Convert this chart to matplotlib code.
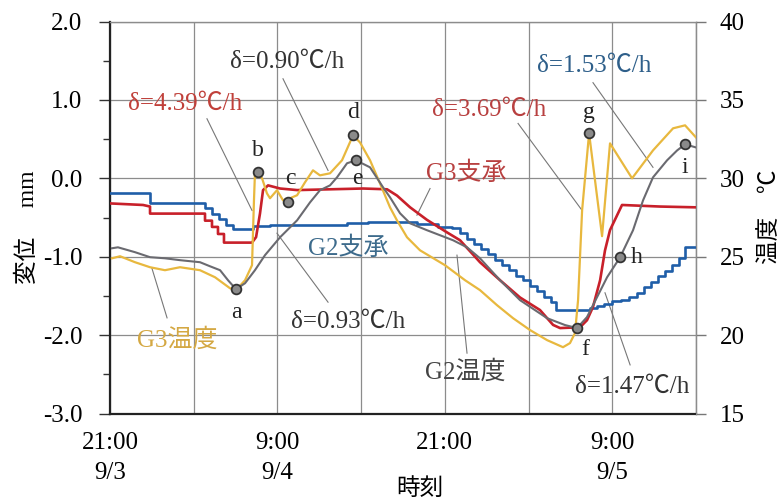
import matplotlib

matplotlib.use("Agg")
import matplotlib.pyplot as plt
from matplotlib.ticker import MultipleLocator

plt.rcParams["font.family"] = ["Liberation Serif", "Noto Sans CJK JP"]
plt.rcParams["axes.unicode_minus"] = False

# hours after 21:00 on 9/3
g2_temp_hours = [0.14, 0.57, 1.79, 2.87, 3.94, 5.02, 6.45, 7.17, 7.89, 8.46, 9.03, 9.68,
                 10.39, 11.11, 12.19, 13.41, 14.34, 15.05, 15.77, 16.27, 16.99, 17.63,
                 18.64, 19.57, 20.07, 20.79, 21.51, 22.72, 24.59, 25.59, 26.52, 27.96,
                 29.39, 31.33, 32.62, 33.48, 34.19, 34.91, 35.63, 36.56, 37.49, 38.21,
                 38.92, 39.93, 40.65, 41.22, 42.0]
g2_temp = [25.54, 25.6, 25.29, 24.97, 24.9, 24.78, 24.65, 24.39, 24.14, 23.5, 22.93, 23.31,
           24.14, 25.1, 26.24, 27.32, 28.47, 29.24, 29.55, 30.06, 30.96, 31.15,
           30.7, 29.43, 28.79, 27.77, 27.13, 26.69, 26.05, 25.6, 24.9, 23.5,
           22.23, 21.08, 20.64, 20.45, 21.15, 22.42, 23.69, 24.96, 26.69, 28.6,
           30.06, 31.15, 31.78, 32.17, 31.97]

g3_temp_hours = [0.14, 0.72, 1.79, 2.87, 3.94, 5.02, 6.45, 7.53, 8.6, 9.03, 9.68, 10.18,
                 10.32, 10.39, 10.61, 10.9, 11.25, 11.47, 11.97, 12.4, 12.9, 13.41, 13.98,
                 14.55, 15.05, 15.77, 16.63, 17.42, 17.92, 18.64, 19.35, 20.07, 20.57,
                 21.29, 22.22, 24.01, 25.45, 26.52, 27.74, 28.89, 30.11, 31.33, 32.47,
                 32.97, 33.33, 33.55, 33.84, 34.34, 35.27, 35.84, 37.42, 38.92, 40.36,
                 41.22, 42.0]
g3_temp = [24.9, 25.03, 24.65, 24.33, 24.14, 24.33, 24.14, 23.69, 22.99, 22.87, 23.5, 24.46,
           28.6, 30.32, 30.38, 30.0, 29.04, 28.73, 29.24, 28.6, 28.73, 28.92, 29.75,
           30.51, 30.19, 30.32, 31.15, 32.74, 32.29, 31.15, 29.68, 28.15, 27.32,
           26.24, 25.41, 24.46, 23.5, 22.87, 21.91, 21.08, 20.32, 19.68, 19.23,
           19.49, 20.13, 22.23, 27.96, 32.87, 26.31, 32.23, 30.0, 31.78, 33.19,
           33.38, 32.61]

g3_bearing_hours = [0, 2.37, 2.87, 2.87, 6.6, 6.81, 6.81, 7.31, 7.31, 7.74, 7.74, 8.17, 8.17,
                    8.6, 10.18, 10.47, 10.75, 10.97, 11.33, 12.19, 13.41, 15.77, 18.14,
                    19.86, 20.57, 21.51, 22.72, 24.16, 25.09, 26.52, 27.96, 29.39, 30.82,
                    31.76, 32.26, 33.69, 34.19, 34.62, 35.13, 35.48, 35.84, 36.7, 39.43, 42.0]
g3_bearing = [-0.32, -0.34, -0.36, -0.45, -0.45, -0.45, -0.54, -0.54, -0.62, -0.62, -0.71,
              -0.71, -0.82, -0.82, -0.82, -0.75, -0.45, -0.15, -0.09, -0.13, -0.15, -0.14,
              -0.13, -0.14, -0.22, -0.37, -0.53, -0.69, -0.79, -1.07, -1.3, -1.52, -1.68,
              -1.87, -1.91, -1.9, -1.81, -1.64, -1.3, -0.92, -0.66, -0.34, -0.36, -0.37]

g2_bearing_hours = [0, 2.87, 6.8, 7.3, 7.8, 8.3, 8.8, 10.25, 11.5, 14, 17, 18.5, 22, 23.5,
                    24.5, 25.1, 25.6, 26.1, 26.6, 27.1, 27.6, 28.1, 28.6, 29.1, 29.6, 30.1,
                    30.6, 31.1, 31.6, 32.0, 34.4, 34.9, 35.4, 36.0, 36.6, 37.2, 37.8, 38.3,
                    38.8, 39.3, 39.8, 40.3, 40.8, 41.2, 42.0]
g2_bearing = [-0.19, -0.31, -0.38, -0.45, -0.52, -0.59, -0.65, -0.61, -0.6, -0.59, -0.57,
              -0.56, -0.58, -0.62, -0.64, -0.7, -0.77, -0.84, -0.9, -0.97, -1.04, -1.1,
              -1.17, -1.24, -1.3, -1.37, -1.44, -1.51, -1.58, -1.68, -1.66, -1.63, -1.6,
              -1.57, -1.55, -1.52, -1.46, -1.39, -1.32, -1.25, -1.18, -1.1, -1.02, -0.88,
              -0.88]

mark_names = ["a", "b", "c", "d", "e", "f", "g", "h", "i"]
mark_hours = [9.03, 10.61, 12.76, 17.42, 17.63, 33.48, 34.34, 36.56, 41.22]
mark_temps = [22.93, 30.38, 28.5, 32.74, 31.15, 20.45, 32.87, 24.96, 32.17]

x_ticks = [0, 6, 12, 18, 24, 30, 36, 42]
x_labels = ["21:00\n9/3", "", "9:00\n9/4", "", "21:00", "", "9:00\n9/5", ""]
disp_ticks = [-3.0, -2.0, -1.0, 0.0, 1.0, 2.0]
disp_labels = ["-3.0", "-2.0", "-1.0", "0.0", "1.0", "2.0"]
temp_ticks = [15, 20, 25, 30, 35, 40]

RED = "#c8202a"
BLUE = "#1f5ea8"
YELLOW = "#e8b83e"
GRAY = "#6a6a70"
GRID = "#8c8c8c"

fig = plt.figure(figsize=(7.84, 5.03), dpi=100)
ax = fig.add_axes([0.1403, 0.1779, 0.7474, 0.7793])
ax2 = ax.twinx()

ax.plot(g2_bearing_hours, g2_bearing, color=BLUE, lw=1.9, drawstyle="steps-post", zorder=3)
ax.plot(g3_bearing_hours, g3_bearing, color=RED, lw=1.9, zorder=4)
ax2.plot(g3_temp_hours, g3_temp, color=YELLOW, lw=1.6, zorder=3)
ax2.plot(g2_temp_hours, g2_temp, color=GRAY, lw=1.5, zorder=4)
ax2.plot(mark_hours, mark_temps, "o", ms=7, mfc="#8a8a8a", mec="#333333", mew=1.3, zorder=5)

# point labels (offsets in pixels)
label_offsets = {"a": (0, -23), "b": (0, 22), "c": (2, 23), "d": (0, 23), "e": (1, -18),
                 "f": (8, -21), "g": (0, 21), "h": (17, 0), "i": (0, -23)}
for name, t, v in zip(mark_names, mark_hours, mark_temps):
    ax2.annotate(name, (t, v), xytext=label_offsets[name], textcoords="offset pixels",
                 ha="center", va="center", fontsize=17, color="#222222", zorder=6)

ax.set_xlim(0, 42)
ax.set_ylim(-3.0, 2.0)
ax2.set_ylim(15, 40)

ax.set_xticks(x_ticks)
ax.set_xticklabels(x_labels, fontsize=18, linespacing=1.5)
ax.tick_params(axis="x", length=0, pad=13)
ax.set_yticks(disp_ticks)
ax.set_yticklabels(disp_labels, fontsize=18)
ax.yaxis.set_minor_locator(MultipleLocator(0.5))
ax.tick_params(axis="y", which="major", length=8, width=1, color="#333333", pad=12)
ax.tick_params(axis="y", which="minor", length=5, width=1, color="#333333")
ax2.set_yticks(temp_ticks)
ax2.tick_params(axis="y", length=7, width=1, color="#777777", labelsize=18, pad=10)

ax.grid(True, which="major", color=GRID, lw=0.9)
ax.set_axisbelow(True)

for side in ("top", "right"):
    ax.spines[side].set_color(GRID)
    ax.spines[side].set_linewidth(1.0)
for side in ("left", "bottom"):
    ax.spines[side].set_color("#222222")
    ax.spines[side].set_linewidth(1.6)
for side in ("top", "left", "bottom"):
    ax2.spines[side].set_visible(False)
ax2.spines["right"].set_color(GRID)

# slope annotations and series labels with leader lines
notes = [
    ("δ=4.39℃/h", 5.38, 0.955, "#c0403a", (6.95, 0.76), (10.18, -0.41)),
    ("δ=0.90℃/h", 12.7, 1.48, "#333333", (12.4, 1.27), (15.63, 0.10)),
    ("δ=0.93℃/h", 17.06, -1.83, "#333333", (11.97, -0.70), (15.63, -1.58)),
    ("δ=3.69℃/h", 27.2, 0.87, "#b84040", (29.25, 0.70), (33.84, -0.41)),
    ("δ=1.53℃/h", 34.7, 1.44, "#2e5f8a", (34.62, 1.22), (38.92, 0.14)),
    ("δ=1.47℃/h", 37.4, -2.66, "#333333", (37.28, -2.38), (35.48, -1.46)),
    ("G3支承", 25.5, 0.06, "#b84040", (22.94, -0.13), (22.0, -0.47)),
    ("G2支承", 17.06, -0.89, "#3d6b8c", None, None),
    ("G3温度", 4.8, -2.06, "#d4a843", (4.09, -1.78), (3.01, -1.15)),
    ("G2温度", 25.45, -2.47, "#444444", (25.59, -2.23), (24.87, -0.98)),
]
for text, tx, ty, color, p1, p2 in notes:
    ax.text(tx, ty, text, color=color, fontsize=18, ha="center", va="center", zorder=6)
    if p1 is not None:
        ax.plot([p1[0], p2[0]], [p1[1], p2[1]], color="#777777", lw=0.8, zorder=2)

fig.text(28 / 784, 1 - 227 / 503, "変位　 mm", rotation=90, ha="center", va="center",
         fontsize=17)
fig.text(770 / 784, 1 - 217 / 503, "温度　℃", rotation=90, ha="center", va="center",
         fontsize=17)
fig.text(420 / 784, 1 - 489 / 503, "時刻", ha="center", va="center", fontsize=17)

fig.savefig("out.png", dpi=100)
